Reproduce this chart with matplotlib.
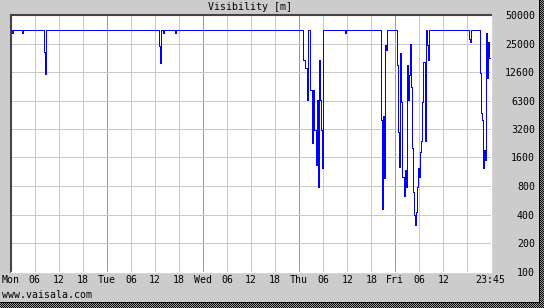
import numpy as np
import matplotlib
matplotlib.use("Agg")
import matplotlib.pyplot as plt

# visibility in metres, step data (hours since Mon 00:00)
hours = [0, 0.25, 0.5, 2.75, 3.0, 8.25, 8.625, 8.875, 37.0, 37.375, 37.625, 38.0, 38.25, 41.0, 41.25,
         73.0, 73.5, 74.0, 74.25, 74.75, 75.25, 75.5, 75.75, 76.25, 76.5, 76.75, 77.0, 77.25, 77.5, 77.75, 78.0,
         83.5, 83.75,
         92.5, 92.75, 93.0, 93.25, 93.5, 93.75, 94.0,
         96.5, 96.75, 97.0, 97.25, 97.5, 97.75, 98.25, 98.5, 98.75, 99.0, 99.25, 99.5, 99.75, 100.0,
         100.25, 100.5, 100.75, 101.0, 101.25, 101.5, 101.75, 102.0, 102.25, 102.5, 102.75, 103.0,
         103.5, 103.75, 104.0, 104.25, 104.5,
         114.5, 114.75, 115.0,
         117.25, 117.5, 117.75, 118.0, 118.25, 118.5, 118.75, 119.0, 119.25, 119.5, 119.75]
visibility = [35000, 32500, 35000, 32500, 35000, 20500, 12000, 35000, 23700, 15800, 35000, 32500, 35000, 32500, 35000,
              16900, 14000, 6400, 35000, 8200, 2270, 8200, 3100, 1330, 6400, 780, 17000, 6400, 3100, 1240, 35000,
              32500, 35000,
              3900, 460, 4400, 970, 24000, 21500, 35000,
              14900, 2950, 1260, 20000, 6100, 1000, 630, 1180, 780, 14900, 6400, 11700, 25000, 8800,
              2000, 690, 400, 310, 430, 780, 1250, 1000, 1800, 2400, 6100, 16000,
              2400, 35000, 24000, 16900, 35000,
              28000, 26000, 35000,
              12300, 4700, 3900, 1230, 1900, 1500, 32000, 10900, 26000, 17500, 17500]

y_ticks = [100, 200, 400, 800, 1600, 3200, 6300, 12600, 25000, 50000]
x_grid = list(range(0, 120, 6))
x_label_pos = [0, 6, 12, 18, 24, 30, 36, 42, 48, 54, 60, 66, 72, 78, 84, 90, 96, 102, 108, 119.75]
x_labels = ["Mon", "06", "12", "18", "Tue", "06", "12", "18", "Wed", "06", "12", "18",
            "Thu", "06", "12", "18", "Fri", "06", "12", "23:45"]

W, H = 544, 308
BG = "#cccccc"
plt.rcParams['font.family'] = ['DejaVu Sans Mono']
FS = 7.1
PX = 0.72  # one pixel in points at dpi 100

fig = plt.figure(figsize=(W / 100, H / 100), dpi=100, facecolor=BG)
ax = fig.add_axes([10.7 / W, (H - 272) / H, (490.5 - 10.7) / W, (272 - 15) / H])
ax.set_facecolor("white")

ax.set_yscale("log")
ax.set_ylim(100, 50000)
ax.set_xlim(0, 119.75)

for h in x_grid:
    col = "#999999" if h % 24 == 0 else "#c8c8c8"
    ax.axvline(h, color=col, lw=PX, zorder=1, antialiased=False)
for v in y_ticks:
    ax.axhline(v, color="#c8c8c8", lw=PX, zorder=1, antialiased=False)

ax.step(hours, visibility, where="post", color="#0000ff", lw=PX, zorder=3, antialiased=False)

ax.yaxis.tick_right()
ax.set_yticks(y_ticks)
ax.set_yticklabels([str(v) for v in y_ticks])
ax.minorticks_off()
ax.set_xticks(x_label_pos)
ax.set_xticklabels(x_labels)
ax.tick_params(axis="both", length=0, labelsize=FS)
ax.tick_params(axis="x", pad=2.2)
ax.tick_params(axis="y", pad=32)
for t in ax.get_yticklabels():
    t.set_horizontalalignment("right")

for s in ["left", "top"]:
    ax.spines[s].set_color("#444444")
    ax.spines[s].set_linewidth(1.5)
for s in ["right", "bottom"]:
    ax.spines[s].set_color("white")
    ax.spines[s].set_linewidth(1.0)

fig.text(250 / W, 1 - 7 / H, "Visibility [m]", ha="center", va="center", fontsize=FS)
fig.text(2 / W, 1 - 295 / H, "www.vaisala.com", ha="left", va="center", fontsize=FS)

# dithered drop shadow on right and bottom edges
shadow = np.zeros((H, W, 4))
yy, xx = np.mgrid[0:H, 0:W]
checker = ((xx + yy) % 2 == 0)
band = (xx >= 540) | (yy >= 303)
shadow[band & checker] = [0, 0, 0, 1]
shadow[band & ~checker] = [0.6, 0.6, 0.6, 1]
shadow[(xx == 539) & (yy < 303)] = [0, 0, 0, 1]
shadow[(yy == 302) & (xx < 540)] = [0, 0, 0, 1]
fig.figimage(shadow, xo=0, yo=0, origin="upper", zorder=10)

fig.savefig("out.png", dpi=100, facecolor=BG)
